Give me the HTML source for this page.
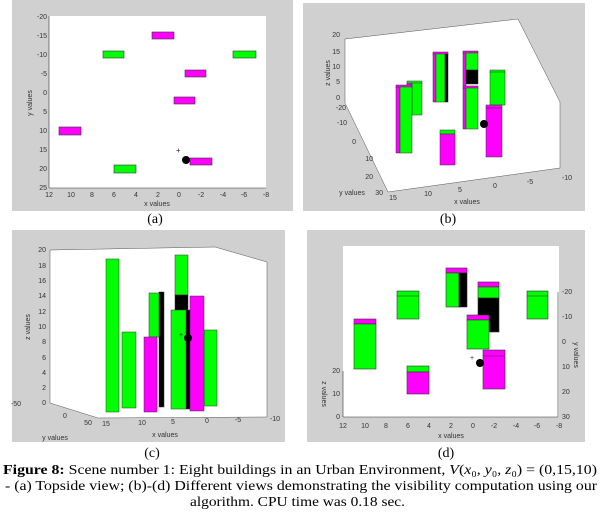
<!DOCTYPE html>
<html><head><meta charset="utf-8"><style>
body{margin:0;background:#fff;width:600px;height:513px;overflow:hidden}
svg text{font-family:"Liberation Sans",sans-serif;font-size:7px;fill:#333}
.cap{font-family:"Liberation Serif",serif;font-size:14px;fill:#000}
</style></head><body>
<svg width="600" height="513" viewBox="0 0 600 513" xmlns="http://www.w3.org/2000/svg">
<g stroke="#333" stroke-width="0.6">
<rect x="12" y="0" width="281" height="211" fill="#d0d0d0" stroke="none"/>
<rect x="49" y="16" width="217" height="172" fill="#fff" stroke="none"/>
<line x1="49" y1="16" x2="49" y2="188"/><line x1="49" y1="188" x2="266" y2="188"/>
<rect x="152" y="32" width="22" height="7" fill="#ff00ff"/>
<rect x="103" y="51" width="21" height="7" fill="#00ff00"/>
<rect x="233" y="51" width="23" height="7" fill="#00ff00"/>
<rect x="185" y="70" width="21" height="7" fill="#ff00ff"/>
<rect x="174" y="97" width="21" height="7" fill="#ff00ff"/>
<rect x="59" y="127" width="22" height="8" fill="#ff00ff"/>
<rect x="190" y="158" width="22" height="7" fill="#ff00ff"/>
<rect x="114" y="165" width="22" height="8" fill="#00ff00"/>
</g>
<circle cx="186" cy="160" r="4" fill="#000"/>
<text x="176" y="153" style="font-size:8px">+</text>
<g text-anchor="end">
<text x="47" y="19">-20</text><text x="47" y="38">-15</text><text x="47" y="57">-10</text><text x="47" y="76">-5</text><text x="47" y="95">0</text><text x="47" y="114">5</text><text x="47" y="133">10</text><text x="47" y="152">15</text><text x="47" y="171">20</text><text x="47" y="190">25</text>
</g>
<g text-anchor="middle">
<text x="49" y="197">12</text><text x="71" y="197">10</text><text x="92" y="197">8</text><text x="114" y="197">6</text><text x="136" y="197">4</text><text x="158" y="197">2</text><text x="179" y="197">0</text><text x="201" y="197">-2</text><text x="223" y="197">-4</text><text x="244" y="197">-6</text><text x="266" y="197">-8</text>
<text x="157" y="206">x values</text>
<text transform="translate(32,103) rotate(-90)">y values</text>
</g>

<rect x="303" y="3" width="282" height="208" fill="#d0d0d0"/>
<polygon points="345,39 518,19 560,102 560,168 388,192 345,103" fill="#fff" stroke="#555" stroke-width="0.5"/>
<g stroke="#333" stroke-width="0.5">
<rect x="407" y="81" width="15" height="3" fill="#00ff00"/>
<rect x="407" y="83" width="5" height="32" fill="#ff00ff"/><rect x="412" y="83" width="10" height="32" fill="#00ff00"/>
<rect x="396" y="85" width="16" height="3" fill="#ff00ff"/>
<rect x="396" y="87" width="4" height="66" fill="#ff00ff"/><rect x="400" y="87" width="12" height="66" fill="#00ff00"/>
<rect x="433" y="52" width="15" height="3" fill="#ff00ff"/>
<rect x="433" y="54" width="3" height="48" fill="#ff00ff"/><rect x="436" y="54" width="9" height="48" fill="#00ff00"/><rect x="445" y="54" width="3" height="48" fill="#000"/>
<rect x="463" y="51" width="15" height="3" fill="#ff00ff"/>
<rect x="463" y="53" width="3" height="33" fill="#ff00ff"/><rect x="466" y="53" width="12" height="17" fill="#00ff00"/><rect x="466" y="70" width="12" height="14" fill="#000"/>
<rect x="463" y="86" width="15" height="3" fill="#ff00ff"/>
<rect x="463" y="88" width="3" height="41" fill="#ff00ff"/><rect x="466" y="88" width="12" height="41" fill="#00ff00"/>
<rect x="490" y="70" width="15" height="3" fill="#00ff00"/>
<rect x="490" y="72" width="15" height="33" fill="#00ff00"/>
<rect x="440" y="130" width="15" height="4" fill="#00ff00"/>
<rect x="440" y="134" width="15" height="31" fill="#ff00ff"/>
<rect x="486" y="105" width="16" height="3" fill="#ff00ff"/>
<rect x="486" y="108" width="16" height="49" fill="#ff00ff"/>
</g>
<circle cx="484" cy="124" r="4" fill="#000"/>
<g text-anchor="end">
<text x="340" y="37">20</text><text x="340" y="54">15</text><text x="340" y="69">10</text><text x="340" y="84">5</text><text x="340" y="100">0</text>
<text x="346" y="110">-20</text><text x="347" y="125">-10</text><text x="356" y="144">0</text><text x="373" y="161">10</text><text x="373" y="179">20</text><text x="383" y="195">30</text>
</g>
<g text-anchor="middle">
<text x="393" y="200">15</text><text x="428" y="196">10</text><text x="460" y="192">5</text><text x="495" y="188">0</text><text x="530" y="184">-5</text><text x="567" y="180">-10</text>
<text x="467" y="204">x values</text><text x="352" y="195">y values</text>
<text transform="translate(330,73) rotate(-90)">z values</text>
</g>
<text class="cap" x="448" y="223" text-anchor="middle">(b)</text>
<text class="cap" x="155" y="223" text-anchor="middle">(a)</text>

<rect x="12" y="230" width="273" height="212" fill="#d0d0d0"/>
<polygon points="50,250 215,247 267,262 267,417 98,418 50,403" fill="#fff" stroke="#555" stroke-width="0.5"/>
<g stroke="#333" stroke-width="0.5">
<rect x="106" y="259" width="13" height="153" fill="#00ff00"/>
<rect x="122" y="332" width="14" height="76" fill="#00ff00"/>
<rect x="159" y="292" width="5" height="115" fill="#000"/>
<rect x="149" y="293" width="10" height="44" fill="#00ff00"/>
<rect x="144" y="337" width="13" height="75" fill="#ff00ff"/>
<rect x="175" y="255" width="13" height="40" fill="#00ff00"/>
<rect x="175" y="295" width="13" height="15" fill="#000"/>
<rect x="186" y="310" width="4" height="99" fill="#000"/>
<rect x="171" y="310" width="15" height="99" fill="#00ff00"/>
<rect x="204" y="330" width="13" height="76" fill="#00ff00"/>
<rect x="190" y="296" width="14" height="115" fill="#ff00ff"/>
</g>
<circle cx="188" cy="338" r="4" fill="#000"/>
<text x="179" y="337" style="font-size:7px">+</text>
<g text-anchor="end">
<text x="46" y="252">20</text><text x="46" y="268">18</text><text x="46" y="283">16</text><text x="46" y="298">14</text><text x="46" y="314">12</text><text x="46" y="329">10</text><text x="46" y="344">8</text><text x="46" y="360">6</text><text x="46" y="375">4</text><text x="46" y="390">2</text><text x="46" y="405">0</text>
</g>
<g text-anchor="middle">
<text x="16" y="406">-50</text><text x="65" y="418">0</text><text x="88" y="425">50</text>
<text x="106" y="426">15</text><text x="142" y="425">10</text><text x="173" y="424">5</text><text x="207" y="423">0</text><text x="238" y="422">-5</text><text x="275" y="421">-10</text>
<text x="165" y="437">x values</text><text x="55" y="440">y values</text>
<text transform="translate(30,327) rotate(-90)">z values</text>
</g>

<rect x="307" y="230" width="278" height="212" fill="#d0d0d0"/>
<rect x="343" y="246" width="216" height="171" fill="#fff"/>
<g stroke="#333" stroke-width="0.6">
<line x1="343" y1="371" x2="343" y2="417"/><line x1="343" y1="417" x2="558" y2="417"/><line x1="558" y1="292" x2="558" y2="417"/>
<rect x="354" y="319" width="22" height="5" fill="#ff00ff"/><rect x="354" y="324" width="22" height="45" fill="#00ff00"/>
<rect x="397" y="291" width="22" height="28" fill="#00ff00"/><line x1="397" y1="296" x2="419" y2="296"/>
<rect x="407" y="366" width="22" height="6" fill="#00ff00"/><rect x="407" y="372" width="22" height="22" fill="#ff00ff"/>
<rect x="446" y="268" width="21" height="5" fill="#ff00ff"/><rect x="446" y="273" width="13" height="34" fill="#00ff00"/><rect x="459" y="273" width="8" height="34" fill="#000"/>
<rect x="478" y="282" width="21" height="5" fill="#ff00ff"/><rect x="478" y="287" width="21" height="11" fill="#00ff00"/><rect x="478" y="298" width="21" height="34" fill="#000"/>
<rect x="467" y="315" width="22" height="5" fill="#ff00ff"/><rect x="467" y="320" width="22" height="29" fill="#00ff00"/>
<rect x="527" y="291" width="21" height="28" fill="#00ff00"/><line x1="527" y1="296" x2="548" y2="296"/>
<rect x="483" y="350" width="22" height="39" fill="#ff00ff"/><line x1="483" y1="356" x2="505" y2="356"/>
</g>
<circle cx="480" cy="363" r="4" fill="#000"/>
<text x="470" y="360" style="font-size:7px">+</text>
<g text-anchor="end"><text x="340" y="373">20</text><text x="340" y="396">10</text><text x="340" y="419">0</text></g>
<g><text x="562" y="294">-20</text><text x="562" y="319">-10</text><text x="562" y="344">0</text><text x="562" y="369">10</text><text x="562" y="394">20</text><text x="562" y="419">30</text></g>
<g text-anchor="middle">
<text x="343" y="428">12</text><text x="365" y="428">10</text><text x="386" y="428">8</text><text x="408" y="428">6</text><text x="429" y="428">4</text><text x="451" y="428">2</text><text x="473" y="428">0</text><text x="494" y="428">-2</text><text x="516" y="428">-4</text><text x="537" y="428">-6</text><text x="559" y="428">-8</text>
<text x="451" y="438">x values</text>
<text transform="translate(322,394) rotate(90)">z values</text>
<text transform="translate(574,355) rotate(90)">y values</text>
</g>

<text class="cap" x="152" y="457" text-anchor="middle">(c)</text>
<text class="cap" x="446" y="457" text-anchor="middle">(d)</text>
<text class="cap" x="3" y="474" textLength="594" lengthAdjust="spacingAndGlyphs"><tspan font-weight="bold">Figure 8:</tspan> Scene number 1: Eight buildings in an Urban Environment, <tspan font-style="italic">V</tspan>(<tspan font-style="italic">x</tspan>₀, <tspan font-style="italic">y</tspan>₀, <tspan font-style="italic">z</tspan>₀) = (0,15,10)</text>
<text class="cap" x="5" y="490" textLength="592" lengthAdjust="spacingAndGlyphs">- (a) Topside view; (b)-(d) Different views demonstrating the visibility computation using our</text>
<text class="cap" x="190" y="506" textLength="215" lengthAdjust="spacingAndGlyphs">algorithm. CPU time was 0.18 sec.</text>
</svg>
</body></html>
